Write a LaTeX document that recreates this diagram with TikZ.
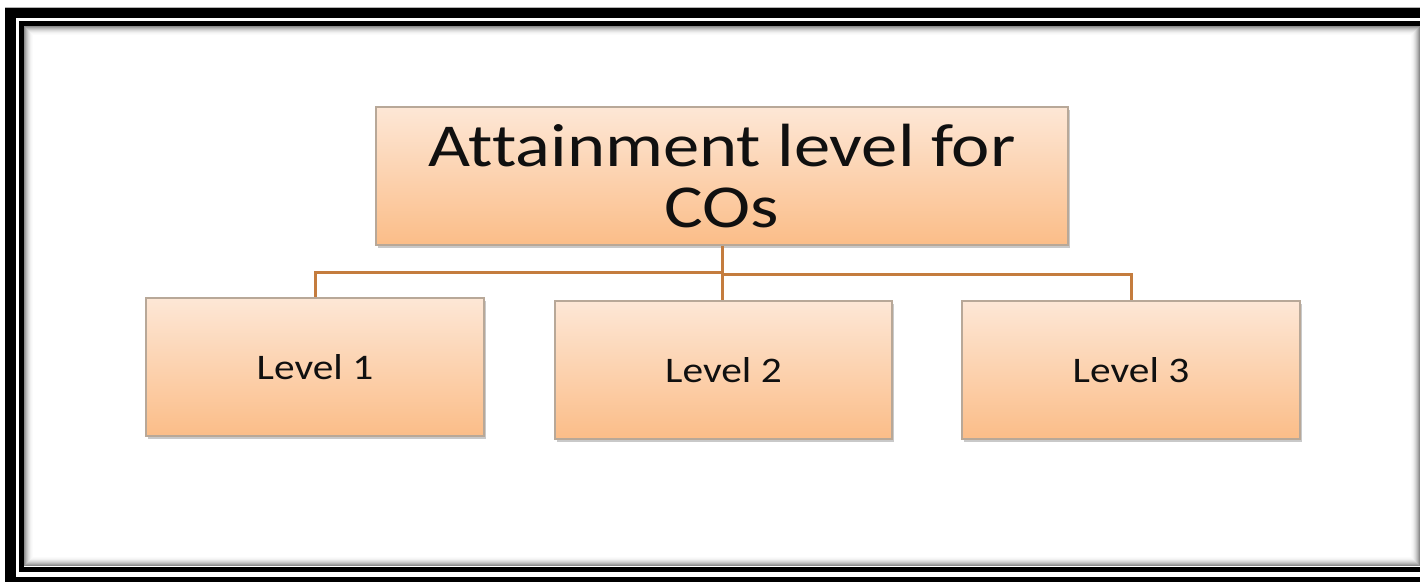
\documentclass[tikz,border=0pt]{standalone}
\usepackage{fontspec}
\setmainfont{Carlito}[Ligatures=NoCommon]
\newfontfamily\widefont{Carlito}[Ligatures=NoCommon, FakeStretch=1.19]
\newfontfamily\lvlfont{Carlito}[Ligatures=NoCommon, FakeStretch=1.15]
\usetikzlibrary{shadows}
\definecolor{boxtop}{HTML}{FDE7D6}
\definecolor{boxbot}{HTML}{FBBD88}
\definecolor{boxedge}{HTML}{B8A898}
\definecolor{conn}{HTML}{C47C3E}
\definecolor{txt}{HTML}{101010}
\tikzset{
  pbox/.style={rectangle, draw=boxedge, line width=1.2pt, top color=boxtop, bottom color=boxbot,
    drop shadow={shadow xshift=2pt, shadow yshift=-3pt, opacity=0.35, fill=black!60},
    text=txt, align=center, inner sep=0pt},
  lvlbox/.style={pbox, minimum width=338pt, minimum height=138pt, font=\lvlfont\fontsize{36}{42}\selectfont},
  conline/.style={draw=conn, line width=3pt},
}
\begin{document}
\begin{tikzpicture}[x=1pt,y=-1pt]
\useasboundingbox (0,0) rectangle (1420,581);
\fill[white] (0,0) rectangle (1420,581);
\begin{scope}
\clip (0,0) rectangle (1420,581);
% outer frame
\draw[gray!60, line width=1pt] (5,7.5) rectangle (1440,600);
\draw[black, line width=10.5pt] (10.5,13.2) rectangle (1440,582);
% inner frame
\draw[black, line width=5pt] (21.5,23.5) rectangle (1422.5,569);
% inner shadow
\foreach \i/\o in {1/0.45,2/0.36,3/0.28,4/0.21,5/0.15,6/0.10,7/0.06,8/0.03,9/0.015} {
  \draw[black, opacity=\o, line width=1pt] (24+\i-0.5,26+\i-0.5) rectangle (1420-\i+0.5,566-\i+0.5);
}
\end{scope}
% nodes
\node[pbox, minimum width=692pt, minimum height=138pt, font=\widefont\fontsize{61}{61}\selectfont] (top) at (722,176) {Attainment level for\\COs};
\node[lvlbox] (l1) at (315,367) {Level 1};
\node[lvlbox, minimum width=337pt] (l2) at (723.5,370) {Level 2};
\node[lvlbox] (l3) at (1131,370) {Level 3};
% connectors
\coordinate (jl) at (723,272);
\coordinate (jr) at (723,274.5);
\draw[conline] (top.south) -- (top.south |- l2.north);
\draw[conline] (jl) -| (l1.north);
\draw[conline] (jr) -| (l3.north);
\end{tikzpicture}
\end{document}
